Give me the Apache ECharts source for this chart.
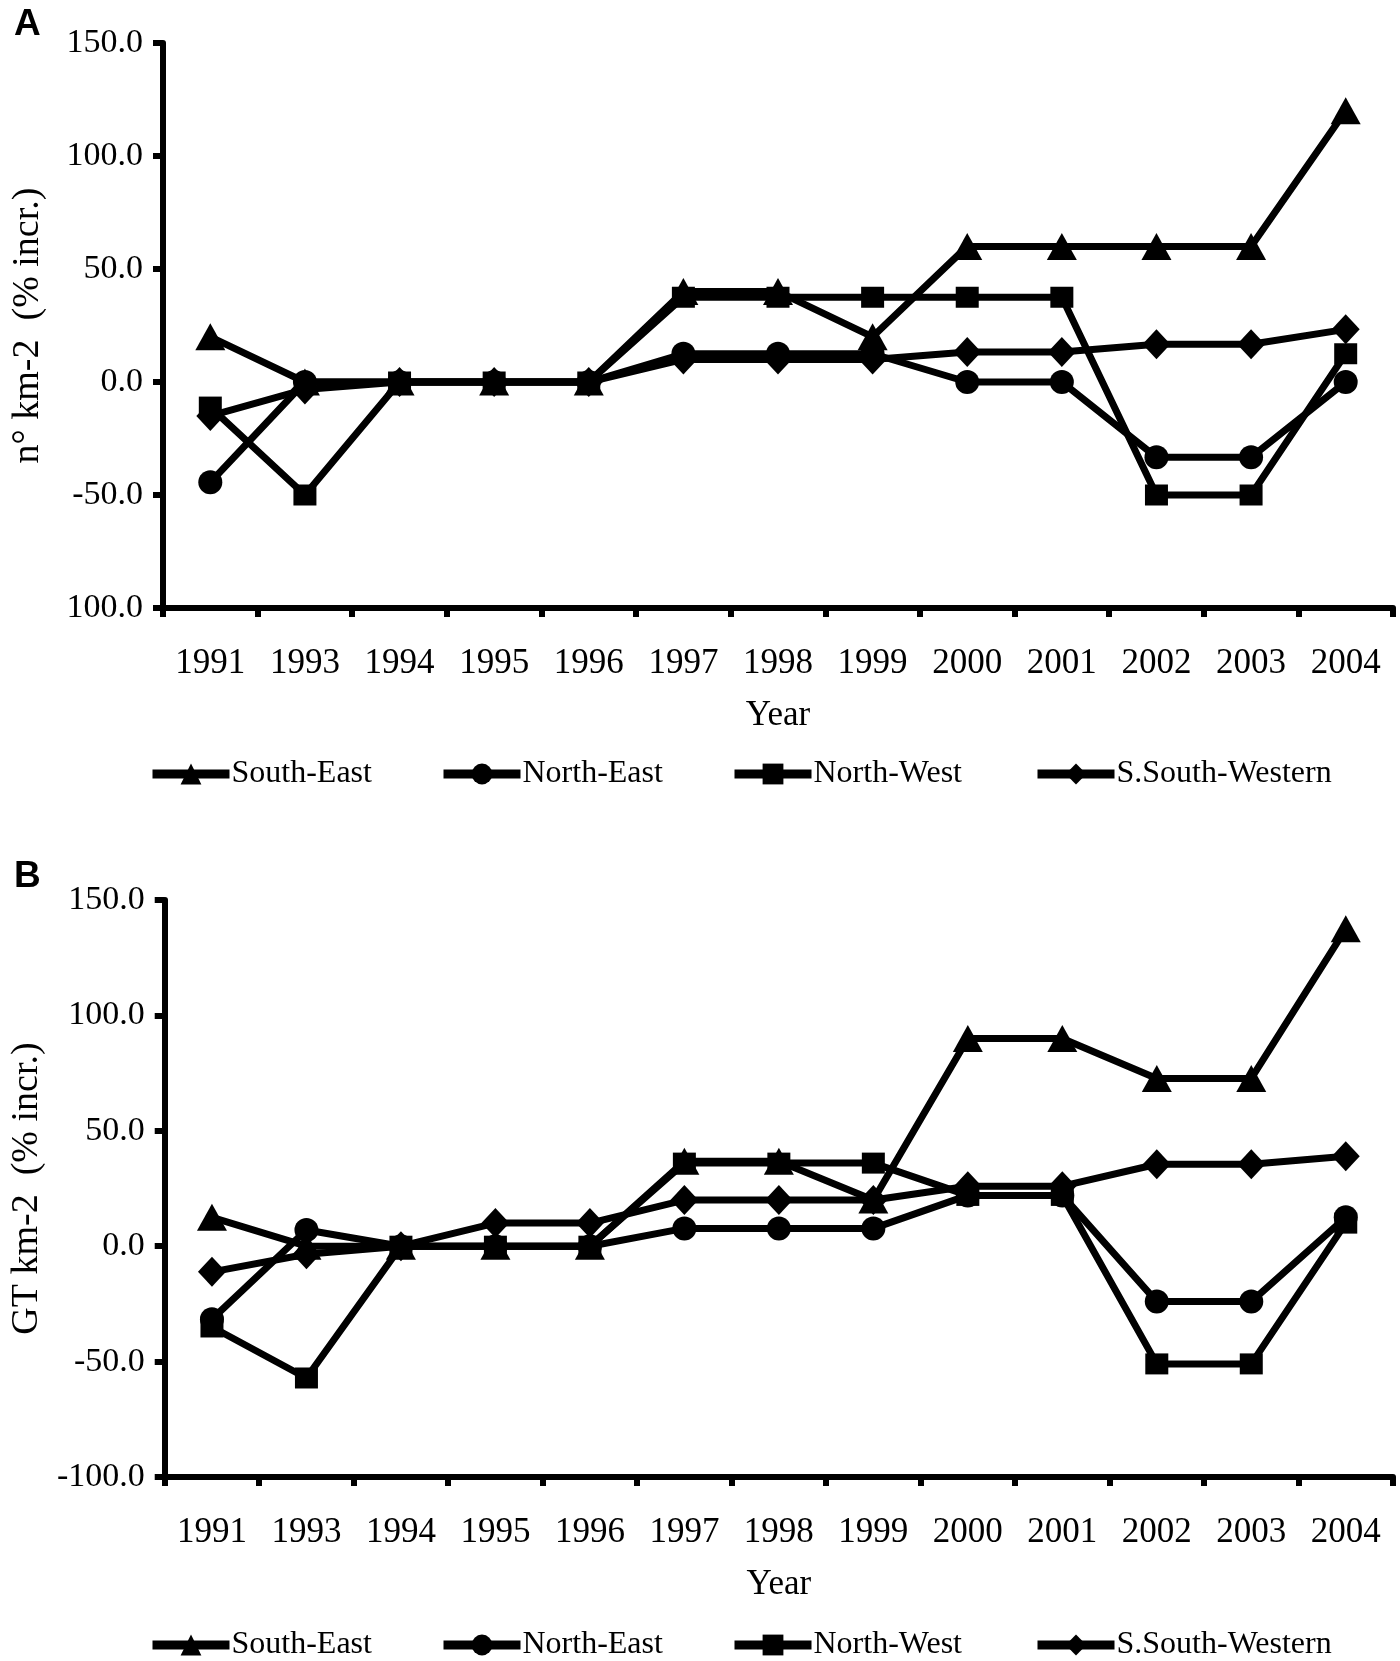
<!DOCTYPE html>
<html>
<head>
<meta charset="utf-8">
<script src="https://cdn.jsdelivr.net/npm/echarts@6/dist/echarts.min.js"></script>
<style>
html,body{margin:0;padding:0;background:#fff;}
#chart{width:1400px;height:1661px;}
</style>
</head>
<body>
<div id="chart"></div>
<script>
const years = ['1991','1993','1994','1995','1996','1997','1998','1999','2000','2001','2002','2003','2004'];
const seriesNames = ['South-East','North-East','North-West','S.South-Western'];

// Panel A: n° km-2 (% incr.)
const southEastA = [20, 0, 0, 0, 0, 40, 40, 20, 60, 60, 60, 60, 120];
const northEastA = [-44.4, 0, 0, 0, 0, 12.5, 12.5, 12.5, 0, 0, -33.3, -33.3, 0];
const northWestA = [-11.1, -50, 0, 0, 0, 37.5, 37.5, 37.5, 37.5, 37.5, -50, -50, 12.5];
const sSouthWesternA = [-15, -3.3, 0, 0, 0, 10, 10, 10, 13.3, 13.3, 16.7, 16.7, 23.3];

// Panel B: GT km-2 (% incr.)
const southEastB = [12.5, 0, 0, 0, 0, 36.8, 36.8, 20, 90, 90, 72.7, 72.7, 137.5];
const northEastB = [-31.6, 7, 0, 0, 0, 7.7, 7.7, 7.7, 22, 22, -24, -24, 12.5];
const northWestB = [-35, -57.1, 0, 0, 0, 36, 36, 36, 22, 22, -51, -51, 10];
const sSouthWesternB = [-11.1, -3.5, 0, 10, 10, 20, 20, 20, 26, 26, 35.5, 35.5, 39];

const yTickValues = [-100, -50, 0, 50, 100, 150];
const yTickLabelsA = ['100.0', '-50.0', '0.0', '50.0', '100.0', '150.0'];
const yTickLabelsB = ['-100.0', '-50.0', '0.0', '50.0', '100.0', '150.0'];

const serif = 'Liberation Serif';
const symbols = ['triangle', 'circle', 'rect', 'diamond'];
const symbolSizes = [[30, 27], 24, [23, 21], [28, 30]];
const legendLefts = [143, 434, 725, 1028];

const chart = echarts.init(document.getElementById('chart'), null, {renderer: 'canvas'});

function makeX(gridIndex) {
  return {
    type: 'category', gridIndex: gridIndex, data: years, boundaryGap: true,
    name: 'Year', nameLocation: 'middle', nameGap: 90,
    nameTextStyle: {fontFamily: serif, fontSize: 35, color: '#000'},
    axisLine: {show: true, onZero: false, lineStyle: {color: '#000', width: 6}},
    axisTick: {show: true, interval: 0, length: 9, lineStyle: {color: '#000', width: 6}},
    axisLabel: {interval: 0, margin: 38, fontFamily: serif, fontSize: 35, color: '#000'},
    splitLine: {show: false}
  };
}
function makeY(gridIndex, title, labels) {
  return {
    type: 'value', gridIndex: gridIndex, min: -100, max: 150, interval: 50,
    name: title, nameLocation: 'middle', nameGap: 116,
    nameTextStyle: {fontFamily: serif, fontSize: 38, color: '#000'},
    axisLine: {show: true, onZero: false, lineStyle: {color: '#000', width: 6}},
    axisTick: {show: true, length: 10, lineStyle: {color: '#000', width: 6}},
    axisLabel: {margin: 20, fontFamily: serif, fontSize: 34, color: '#000',
      formatter: function (v) { const i = yTickValues.indexOf(v); return i >= 0 ? labels[i] : ''; }},
    splitLine: {show: false}
  };
}
function makeSeries(gridIndex, datas) {
  return datas.map(function (d, i) {
    return {
      name: seriesNames[i], type: 'line', xAxisIndex: gridIndex, yAxisIndex: gridIndex,
      data: d, symbol: symbols[i], symbolSize: symbolSizes[i], showAllSymbol: true,
      lineStyle: {color: '#000', width: 7}, itemStyle: {color: '#000'},
      emphasis: {disabled: true}, animation: false
    };
  });
}
function makeLegends(top) {
  return seriesNames.map(function (n, i) {
    return {
      data: [n], left: legendLefts[i], top: top, orient: 'horizontal',
      itemWidth: 77, itemHeight: 26, selectedMode: false,
      lineStyle: {width: 9, color: '#000'},
      itemStyle: {color: '#000'},
      textStyle: {fontFamily: serif, fontSize: 32, color: '#000', padding: [0, 0, 0, -3]}
    };
  });
}

const option = {
  backgroundColor: '#fff',
  animation: false,
  title: [
    {text: 'A', left: 9, top: 1, textStyle: {fontFamily: 'Liberation Sans', fontWeight: 'bold', fontSize: 37, color: '#000'}},
    {text: 'B', left: 9, top: 853, textStyle: {fontFamily: 'Liberation Sans', fontWeight: 'bold', fontSize: 37, color: '#000'}}
  ],
  grid: [
    {left: 163, right: 7, top: 43, height: 565, containLabel: false},
    {left: 163, right: 7, top: 900, height: 577, containLabel: false}
  ],
  xAxis: [makeX(0), makeX(1)],
  yAxis: [makeY(0, 'n° km-2  (% incr.)', yTickLabelsA), makeY(1, 'GT km-2  (% incr.)', yTickLabelsB)],
  legend: makeLegends(753).concat(makeLegends(1624)),
  series: makeSeries(0, [southEastA, northEastA, northWestA, sSouthWesternA])
    .concat(makeSeries(1, [southEastB, northEastB, northWestB, sSouthWesternB]))
};
chart.setOption(option);
</script>
</body>
</html>
